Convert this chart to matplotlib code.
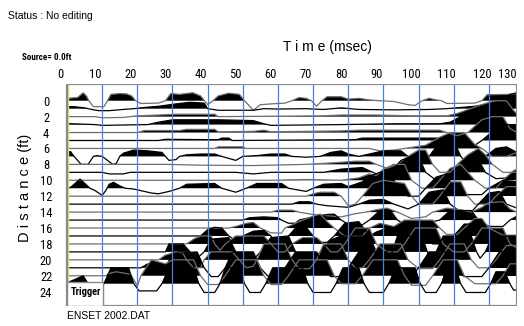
import numpy as np
import matplotlib.pyplot as plt
from matplotlib.patches import Rectangle
from matplotlib import font_manager

# wiggle traces: (time in msec, amplitude in ft, positive = filled black)
tr00 = [(0, 0), (2, 0.3), (5, 0.4), (6.6, 1.0), (7.5, 0.6), (8.2, 0), (9.5, -0.75), (12.5, -0.75), (13.5, 0),
        (14.5, 0.8), (17, 0.9), (19, 0.85), (20.4, 0.6), (21.5, 0), (23, -0.35), (28, -0.3), (30, 0), (31.5, 0.9),
        (34, 0.8), (37.8, 1.0), (40, 0.6), (42, -0.5), (43.5, 0), (45, 0.6), (48, 0.95), (51, 0.8), (52.5, 0),
        (55, -1.2), (57, -0.5), (60, -0.4), (64, -0.3), (66, 0), (68, 0.4), (70, 0.3), (71.5, 0), (73, -0.7),
        (74.5, 0), (76, 0.5), (80, 0.5), (82, 0.2), (85, 0.3), (88, 0.1), (91, 0), (95, -0.1), (99, -0.5),
        (101, -0.6), (103, 0), (105, 0.3), (107, 0.1), (108.5, 0), (110, -0.35), (118, -0.3), (120, 0),
        (121.5, 0.75), (128, 0.8), (130, 0.9)]
tr01 = [(0, 0.25), (4, 0.25), (7, 0.1), (9, -0.1), (11, -0.25), (14, -0.25), (18, -0.1), (21, 0), (24, 0.15),
        (28, 0.3), (33, 0.6), (37, 0.8), (41, 0.7), (42, 0), (45, -0.2), (55, -0.2), (58, 0), (62, -0.05), (70, 0),
        (75, -0.1), (80, 0.1), (85, -0.1), (95, -0.15), (105, -0.1), (110, 0), (118, 0.3), (124, 0.8), (128, 1.8),
        (130, 2.0)]
tr02 = [(0, 0), (10, 0), (12, -0.15), (18, -0.1), (22, 0.1), (28, 0.2), (33, 0.3), (44, 0.3), (45, 0), (60, 0.05),
        (75, 0.1), (80, 0.2), (90, 0.2), (100, 0.1), (110, 0.1), (113, 0.4), (118, 1.2), (122, 1.8), (124, 2.0),
        (127, 2.0), (129, 0.8), (130, 0.3)]
tr03 = [(0, 0.15), (10, 0), (12, -0.1), (25, 0), (28, 0.3), (32, 0.6), (45, 0.6), (55, 0.5), (58, 0.1), (60, -0.1),
        (80, 0), (95, 0.1), (108, 0.1), (111, 0.3), (116, 1.5), (119, 2.0), (121, 2.0), (124, 0), (126, -1.0),
        (128, -1.0), (130, -0.6)]
tr04 = [(0, 0), (22, 0), (24, 0.25), (34, 0.25), (36, 0.4), (44, 0.4), (45, 0.1), (55, 0.15), (58, 0.3), (60, 0.1),
        (80, 0.2), (85, 0.3), (108, 0.3), (110, 0), (113, -0.4), (116, 0), (120, 1.6), (123, 2.0), (126, 2.0),
        (128, 0.5), (130, 0)]
tr05 = [(0, 0), (28, 0), (30, 0.15), (45, 0.1), (46, 0.3), (48, 0.3), (49, 0), (84, 0.1), (86, 0.3), (111, 0.3),
        (113, 0), (117, -0.9), (120, 0), (124, 1.5), (127, 2.0), (130, 2.0)]
tr06 = [(0, 0), (44, 0), (45, 0.2), (52, 0.2), (53, 0), (88, 0), (91, -0.3), (95, -0.2), (98, 0), (104, 0.4),
        (108, 1.4), (111, 2.0), (115, 2.0), (118, 0.5), (120, 0), (123, -1.0), (127, -1.0), (130, -0.5)]
tr07 = [(0, 0), (1.5, 0.6), (3, 0.6), (4, 0), (6, -1.0), (8, -1.0), (9.5, 0), (10.5, 0.1), (12, 0), (15, -1.0),
        (16, -0.9), (17, 0), (18, 0.4), (21, 0.8), (25, 0.7), (29, 0.5), (30, 0), (31, -0.5), (33, -0.4), (34, 0),
        (36, 0.2), (40, 0.3), (44, 0.3), (46, 0), (50, -0.5), (52, 0), (56, 0.1), (60, 0.3), (64, 0.3), (66, 0),
        (70, -0.1), (74, 0), (77, 0.5), (80, 0.7), (82, 0.3), (85, 0), (88, 0.3), (92, 0.7), (97, 0.7), (99, 0),
        (101, -0.6), (103, -0.6), (105, 0), (108, 1.8), (112, 2.0), (114, 0), (116, -1.0), (119, -1.0), (121, 0),
        (124, 1.0), (127, 1.2), (130, 0.5)]
tr08 = [(0, 0), (30, 0), (40, -0.1), (55, -0.15), (70, 0), (78, 0.2), (84, 0.4), (88, 0.4), (90, 0), (93, -0.5),
        (96, 0), (99, 1.0), (102, 1.8), (104, 1.8), (106, 0), (108, -1.0), (111, -1.0), (113, 0), (116, 1.2),
        (119, 2.0), (121, 1.2), (123, 0), (126, -1.0), (130, -1.0)]
tr09 = [(0, 0), (12, 0), (14, -0.2), (18, -0.2), (20, 0), (50, 0), (55, -0.2), (60, 0), (75, 0), (80, 0.4),
        (86, 0.6), (89, 0), (92, -0.6), (94, 0), (97, 1.5), (100, 2.0), (102, 2.0), (104, 0), (107, -1.0),
        (110, -1.0), (112, 0), (116, 1.6), (119, 1.6), (121, 0), (124, -0.8), (130, -0.6)]
tr10 = [(0, 0), (60, 0), (70, 0.1), (80, 0), (85, 0.3), (88, 0.8), (90, 0.6), (92, 1.4), (95, 2.0), (98, 2.0),
        (100, 0), (103, -1.0), (106, -1.0), (108, 0), (111, 1.5), (114, 2.0), (116, 1.0), (118, 0), (121, -1.0),
        (124, -1.0), (126, 0), (129, 1.2), (130, 1.4)]
tr11 = [(0, 0), (3, 0.1), (5.7, 1.15), (7.8, 0.3), (8.5, 0), (10, -0.3), (12, -0.9), (13, -0.3), (14, 0.5),
        (15.2, 0.75), (17, 0.3), (18.5, 0), (21, -0.1), (26, -0.6), (28, -0.7), (31, -0.4), (34, 0), (36, 0.5),
        (44, 0.6), (46, 0), (50, -0.5), (53, 0), (56, 0.6), (63, 0.6), (65, 0), (70, -0.4), (72, 0), (75, 0.5),
        (80, 0.6), (82, 0.2), (86, 0.8), (88, 1.5), (91, 2.0), (94, 2.0), (96, 0), (99, -1.0), (102, -1.0),
        (104, 0), (107, 1.4), (110, 1.8), (112, 0), (115, -0.8), (120, -0.8), (122, 0), (126, 1.0), (130, 0.8)]
tr12 = [(0, 0), (70, 0), (72, 0.3), (74, 0.5), (78, 0.5), (80, 0), (82, -1.2), (84, -1.0), (86, 0), (89, 1.6),
        (92, 2.0), (98, 1.6), (100, 0), (102, -1.0), (106, -1.0), (108, 0), (111, 1.8), (114, 1.8), (116, 0),
        (118, -1.0), (122, -1.0), (124, 0), (127, 1.2), (130, 1.2)]
tr13 = [(0, 0), (66, 0), (68, 0.3), (71, 0.3), (73, 0), (76, -0.2), (82, -0.4), (85, 0), (88, 0.5), (92, 0.6),
        (95, 0), (99, -0.6), (102, 0), (105, 1.5), (109, 1.8), (111, 0), (114, -1.0), (117, -1.0), (119, 0),
        (122, 1.4), (125, 1.6), (127, 0), (130, -0.5)]
tr14 = [(0, 0), (60, 0), (62, 0.25), (66, 0.25), (68, 0), (72, -0.3), (80, -0.6), (84, -0.2), (87, 0), (90, 0.3),
        (93, 0.5), (96, 0), (100, -0.8), (104, -0.6), (106, 0), (110, 0.5), (114, 0.3), (117, 0), (120, 0.6),
        (122, 1.2), (126, 1.3), (128, 0.4), (130, 0)]
tr15 = [(0, 0), (52, 0), (54, 0.3), (58, 0.4), (62, 0.3), (63, 0), (65, -0.4), (67, -0.4), (68, 0), (72, 0.4),
        (76, 0.7), (78, 0.75), (80, 0), (83, -0.8), (86, -0.6), (88, 0), (91, 1.2), (94, 1.2), (96, 0), (99, -0.8),
        (103, -0.8), (106, -0.2), (108, 0), (111, 1.2), (117, 1.2), (119, 0), (122, -0.8), (126, -0.8), (128, 0),
        (130, 0.5)]
tr16 = [(0, 0), (48, 0), (50, 0.2), (53, 0.6), (55, 0.7), (57, 0), (60, -0.6), (63, -0.65), (64, 0), (68, 0.8),
        (72, 1.5), (74, 1.75), (76, 0.8), (78, 0), (81, -1.0), (86, -1.0), (88, 0), (91, 0.6), (95, 0.2), (98, 1.0),
        (106, 1.0), (108, 0), (110, -0.8), (113, -0.8), (115, 0), (118, 1.2), (120, 1.2), (122, 0), (126, -0.9),
        (130, -0.9)]
tr17 = [(0, 0), (40, 0), (42, 0.8), (44, 1.1), (46, 1.0), (48, 0), (50, -0.6), (52, 0), (55, 0.6), (58, 0.7),
        (60, 0), (62, -1.6), (64, -1.6), (65, 0), (67, 1.0), (70, 1.1), (72, 0), (74, -0.8), (76, -0.8), (78, 0),
        (81, 1.6), (85, 1.8), (88, 0), (90, 0.5), (93, 1.0), (101, 1.0), (103, 0), (106, -1.0), (110, -1.0),
        (112, 0), (115, 1.5), (120, 1.5), (122, 0), (125, -1.0), (130, -1.0)]
tr18 = [(0, 0), (36, 0), (38, 0.6), (40, 1.0), (43, 1.0), (44, 0), (45.5, -0.8), (47, 0), (50, 1.0), (58, 1.0),
        (60, 0), (62, -1.0), (64, -1.0), (66, 0), (69, 0.8), (73, 0.8), (75, 0), (77, -1.0), (79, -1.0), (81, 0),
        (84, 2.0), (88, 2.0), (90, 0), (93, -1.0), (96, -1.0), (98, 0), (101, 2.0), (107, 2.0), (109, 0),
        (112, -1.0), (115, -1.0), (117, 0), (120, 2.0), (126, 2.0), (128, 0), (130, -0.5)]
tr19 = [(0, 0), (30, 0), (31, 1.0), (35, 1.0), (37, 0), (39, -0.8), (41, 0), (43, 1.6), (48, 1.8), (50, 0),
        (52, -1.0), (55, -1.0), (57, 0), (60, 1.8), (65, 2.0), (67, 0), (69, -1.0), (72, -1.0), (74, 0), (77, 1.5),
        (80, 2.0), (88, 2.0), (90, 0), (92, -1.0), (93, -1.0), (94.5, 0), (96, 2.0), (103, 2.0), (104.5, 0),
        (105.5, -0.8), (107, 0), (109, 2.0), (117, 2.0), (118.5, 0), (119.5, -0.8), (121, 0), (123, 2.0), (130, 2.0)]
tr20 = [(0, 0), (28, 0), (30, 0.6), (33, 1.0), (35, 0.8), (36, 0), (38, -1.0), (40, -1.0), (41, 0), (43, 1.0),
        (49, 1.0), (51, 0), (53, -1.0), (55, -0.8), (56, 0), (58, 2.0), (64, 2.0), (66, 0), (68, -1.1), (71, -1.1),
        (73, 0), (75, 2.0), (80, 2.0), (82, 0), (84, -1.0), (86, -1.0), (88, 0), (91, 2.0), (97, 2.0), (99, 0),
        (102, -1.1), (106, -1.1), (108, 0), (111, 2.0), (115, 2.0), (117, 0), (119, -1.0), (122, -1.0), (124, 0),
        (127, 1.8), (130, 1.8)]
tr21 = [(0, 0), (23, 0), (25, 0.5), (27, 0), (29, -0.6), (30, 0), (32, 1.8), (39, 2.0), (41, 0), (43, -1.1),
        (45, -1.1), (47, 0), (49, 2.0), (55, 2.0), (57, 0), (59, -1.0), (62, -1.0), (64, 0), (67, 2.0), (73, 2.0),
        (75, 0), (77, -1.1), (80, -1.1), (82, 0), (85, 2.0), (93, 2.0), (95, 0), (97, -1.0), (100, -1.0), (102, 0),
        (105, 2.0), (110, 2.0), (112, 0), (115, -1.1), (120, -1.1), (122, 0), (125, 2.0), (130, 2.0)]
tr22 = [(0, 0), (13, 0), (14, 0.3), (16, 0.5), (20, 0.2), (21, -0.5), (22, -1.3), (23, 0), (26, 2.0), (30, 1.5),
        (32, 2.0), (38, 2.0), (40, 0), (42, -1.1), (45, -1.1), (47, 0), (50, 2.0), (56, 2.0), (58, 0), (60, -1.1),
        (63, -1.1), (65, 0), (68, 2.0), (76, 2.0), (78, 0), (80, -1.0), (84, -1.0), (86, 0), (89, 2.0), (96, 2.0),
        (98, 0), (100, -1.2), (104, -1.2), (106, 0), (109, 2.0), (113, 2.0), (115, 0), (118, -1.0), (124, -1.0),
        (126, 0), (128, 1.5), (130, 1.5)]
tr23 = [(0, 0), (3, 0.3), (6.6, 1.0), (8, 0), (9.5, -0.9), (11, -0.9), (12.5, 0), (14.5, 2.0), (19.5, 2.0), (21, 0),
        (22.5, -0.9), (27.5, -0.9), (29, 0), (31, 2.0), (38, 2.0), (39.5, 0), (41, -1.1), (44, -1.1), (45.5, 0),
        (47, 2.0), (51, 2.0), (52.5, 0), (54, -1.1), (57, -1.1), (58.5, 0), (60.5, 2.0), (69, 2.0), (70.5, 0),
        (72, -1.1), (77, -1.1), (78.5, 0), (80.5, 2.0), (85, 2.0), (86.5, 0), (88, -1.1), (92, -1.1), (93.5, 0),
        (95.5, 2.0), (101, 2.0), (102.5, 0), (104, -1.1), (107, -1.1), (108.5, 0), (110, 2.0), (112.5, 2.0),
        (114, 0), (115.5, -1.1), (121, -1.1), (122.5, 0), (124, 1.5), (126.5, 1.5), (128, 0), (129, -0.8),
        (130, -0.8)]

traces = [tr00, tr01, tr02, tr03, tr04, tr05, tr06, tr07, tr08, tr09, tr10, tr11,
          tr12, tr13, tr14, tr15, tr16, tr17, tr18, tr19, tr20, tr21, tr22, tr23]
distances = list(range(24))
time_ticks = list(range(0, 131, 10))
dist_ticks = list(range(0, 25, 2))
marker_times = [12, 22, 32, 42, 52, 62, 72, 82, 92, 102, 112, 122]

# narrow face for the small labels, if one is installed
names = {f.name for f in font_manager.fontManager.ttflist}
narrow = [n for n in ['Liberation Sans Narrow', 'DejaVu Sans Condensed', 'Roboto Condensed'] if n in names]
print('narrow fonts:', narrow)
narrow = narrow + ['Liberation Sans', 'DejaVu Sans']
plain = ['Liberation Sans', 'DejaVu Sans']
tick_size = 9 if len(narrow) > 2 else 7.8

W, H = 524, 326
fig = plt.figure(figsize=(W / 100, H / 100), dpi=100)
ax = fig.add_axes([60 / W, 1 - 306 / H, 457 / W, 222 / H])
ax.set_xlim(0, 130)
ax.set_ylim(25.8, -2.1)
for s in ax.spines.values():
    s.set_visible(False)

frame = Rectangle((2, -2.1), 128, 27.9, fill=False, edgecolor='#8a8a8a', lw=1.6, zorder=6)
ax.add_patch(frame)
clipbox = Rectangle((2, -2.1), 128, 27.9, fill=False, lw=0, transform=ax.transData)

for k, (d, tr) in enumerate(zip(distances, traces)):
    t = np.array([p[0] for p in tr], dtype=float)
    a = np.clip(np.array([p[1] for p in tr], dtype=float), -2.0, 2.0)
    y = d - a
    f = ax.fill_between(t, d, y, where=a > 0, interpolate=True, color='black', lw=0, zorder=2)
    f.set_clip_path(clipbox)
    col = '#6f6f6f' if k % 2 == 0 else 'black'
    ln, = ax.plot(t, y, color=col, lw=0.9, zorder=3)
    ln.set_clip_path(clipbox)

for tm in marker_times:
    ax.axvline(tm, color='#3f86d8', lw=0.9, zorder=5)
ax.axvline(2.3, color='#e6df74', lw=1.0, zorder=5)

# trigger label
ax.add_patch(Rectangle((2, 22.8), 10.3, 3.0, facecolor='white', edgecolor='#8a8a8a', lw=1.0, zorder=7))
ax.text(3.0, 24.05, 'Trigger', fontsize=7.5, fontweight='bold', family=narrow, va='center', ha='left', zorder=8)

ax.xaxis.tick_top()
ax.set_xticks(time_ticks)
ax.set_xticklabels([str(v) for v in time_ticks], family=narrow)
ax.set_yticks(dist_ticks)
ax.set_yticklabels([str(v) for v in dist_ticks], family=narrow)
ax.tick_params(axis='x', length=0, pad=2, labelsize=tick_size)
ax.tick_params(axis='y', length=0, pad=10, labelsize=tick_size)
for lab in ax.get_yticklabels():
    lab.set_ha('center')
ax.get_xticklabels()[-1].set_ha('right')
ax.get_xticklabels()[-1].set_x(130.8)

fig.text(327 / W, 1 - 47 / H, 'T i m e (msec)', ha='center', va='center', fontsize=10, family=plain)
fig.text(25 / W, 1 - 188 / H, 'D i s t a n c e (ft)', ha='center', va='center', rotation=90, fontsize=10.5,
         family=plain)
fig.text(22 / W, 1 - 58 / H, 'Source= 0.0ft', ha='left', va='center', fontsize=6.5, fontweight='bold', family=narrow)
fig.text(8 / W, 1 - 16 / H, 'Status : No editing', ha='left', va='center', fontsize=7.5, family=plain)
fig.text(67 / W, 1 - 316 / H, 'ENSET 2002.DAT', ha='left', va='center', fontsize=7.5, family=plain)

fig.savefig('out.png', dpi=100)
